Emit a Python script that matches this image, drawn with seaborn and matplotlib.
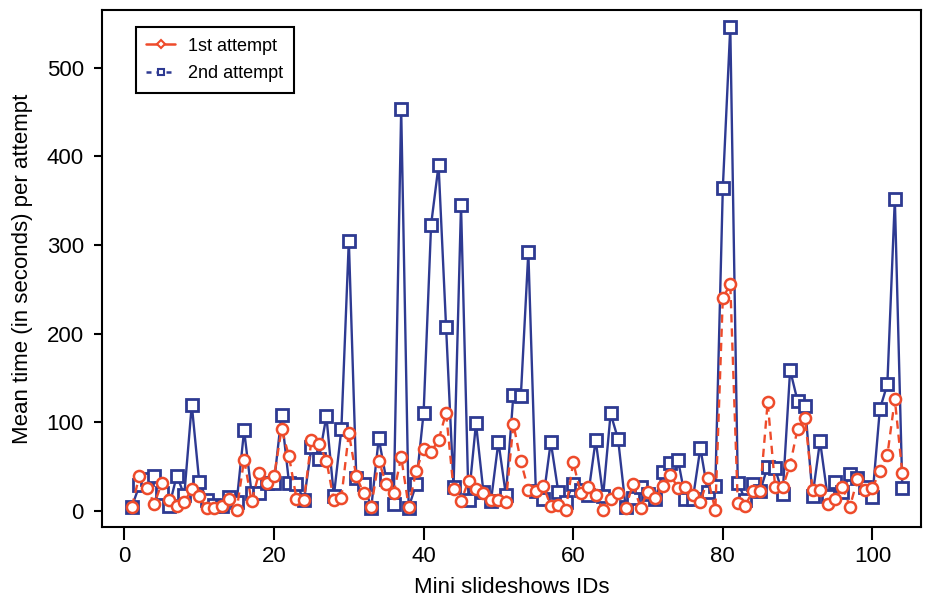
import numpy as np
import pandas as pd
import matplotlib
matplotlib.use("Agg")
import matplotlib.pyplot as plt
from matplotlib.lines import Line2D
import seaborn as sns

# Slideshow IDs and mean time per attempt (seconds)
slideshow_ids = list(range(1, 105))

first_attempt = [
    5, 40, 26, 8, 32, 12, 6, 10, 25, 17,
    3, 3, 6, 14, 1, 58, 11, 43, 32, 39,
    92, 62, 14, 12, 80, 76, 57, 12, 15, 88,
    39, 20, 5, 57, 30, 20, 61, 5, 45, 70,
    67, 80, 111, 25, 11, 34, 25, 20, 12, 13,
    10, 98, 56, 24, 23, 28, 6, 7, 1, 55,
    20, 27, 18, 1, 14, 20, 4, 30, 4, 22,
    15, 28, 41, 26, 27, 18, 10, 37, 1, 240,
    256, 9, 6, 23, 23, 123, 27, 27, 52, 93,
    105, 24, 24, 8, 14, 27, 5, 36, 24, 26,
    45, 63, 126, 43,
]

second_attempt = [
    5, 29, 36, 39, 20, 6, 40, 18, 120, 33,
    13, 7, 6, 16, 10, 91, 20, 20, 32, 32,
    108, 32, 31, 12, 72, 59, 107, 17, 92, 305,
    37, 30, 4, 82, 36, 8, 453, 4, 30, 111,
    323, 390, 208, 27, 345, 12, 99, 21, 11, 78,
    18, 131, 130, 292, 23, 14, 78, 22, 10, 31,
    24, 18, 80, 17, 110, 81, 5, 15, 27, 19,
    14, 44, 54, 58, 14, 14, 71, 21, 28, 364,
    546, 32, 13, 30, 23, 50, 48, 19, 159, 124,
    118, 17, 79, 17, 33, 21, 42, 37, 27, 16,
    115, 143, 352, 26,
]

series_names = ["1st attempt", "2nd attempt"]
x_ticks = [0, 20, 40, 60, 80, 100]
y_ticks = [0, 100, 200, 300, 400, 500]

RED = "#EE4B2B"
BLUE = "#2E3A92"

sns.set_theme(style="white")
plt.rcParams["font.family"] = ["Liberation Sans", "DejaVu Sans"]
plt.rcParams["text.color"] = "black"
plt.rcParams["axes.labelcolor"] = "black"

df = pd.DataFrame({
    "id": slideshow_ids,
    "first": first_attempt,
    "second": second_attempt,
})

fig = plt.figure(figsize=(9.29, 6.01), dpi=100)
ax = fig.add_axes([0.1098, 0.1231, 0.8816, 0.8603])

sns.lineplot(data=df, x="id", y="second", ax=ax, color=BLUE, linewidth=1.7,
             linestyle="-", marker="s", markersize=9, markerfacecolor="white",
             markeredgecolor=BLUE, markeredgewidth=2.0, legend=False, zorder=2)
sns.lineplot(data=df, x="id", y="first", ax=ax, color=RED, linewidth=1.7,
             linestyle=(0, (3.5, 2.5)), marker="o", markersize=8,
             markerfacecolor="white", markeredgecolor=RED, markeredgewidth=1.8,
             legend=False, zorder=3)

ax.set_xlim(-3, 106.5)
ax.set_ylim(-18, 565)
ax.set_xticks(x_ticks)
ax.set_yticks(y_ticks)
ax.tick_params(axis="x", direction="out", length=9, width=1.5, colors="black",
               labelsize=16, pad=5, bottom=True)
ax.tick_params(axis="y", direction="out", length=6, width=1.5, colors="black",
               labelsize=16, pad=7, left=True)

for side in ["left", "right", "top", "bottom"]:
    ax.spines[side].set_visible(True)
    ax.spines[side].set_color("black")
    ax.spines[side].set_linewidth(1.5)

ax.set_xlabel("Mini slideshows IDs", fontsize=16, labelpad=7, color="black")
ax.set_ylabel("Mean time (in seconds) per attempt", fontsize=16, labelpad=10,
              color="black")

handles = [
    Line2D([0], [0], color=RED, linestyle="-", linewidth=1.8, marker="D",
           markersize=4, markerfacecolor="white", markeredgecolor=RED,
           markeredgewidth=1.5),
    Line2D([0], [0], color=BLUE, linestyle=(0, (2, 2)), linewidth=1.8, marker="s",
           markersize=4, markerfacecolor="white", markeredgecolor=BLUE,
           markeredgewidth=1.5),
]
leg = ax.legend(handles, series_names, loc="upper left",
                bbox_to_anchor=(0.03, 0.985), fontsize=13, frameon=True,
                fancybox=False, edgecolor="black", handlelength=1.6,
                handletextpad=0.7, borderpad=0.6, labelspacing=0.6)
leg.get_frame().set_linewidth(1.5)
leg.get_frame().set_alpha(1)

fig.savefig("out.png", dpi=100)
